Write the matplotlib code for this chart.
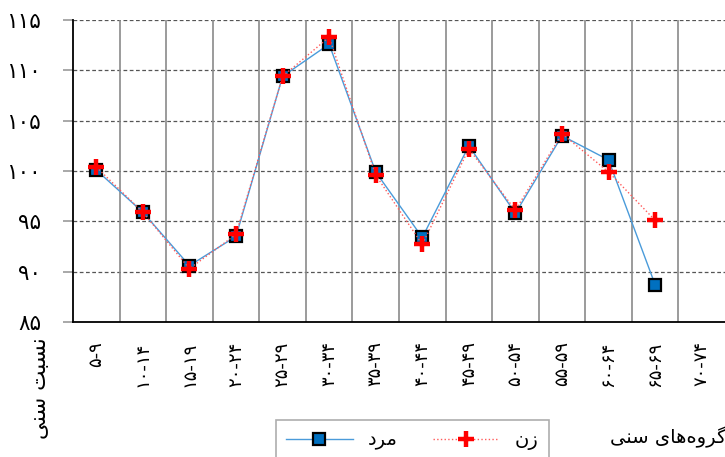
import numpy as np
import matplotlib
matplotlib.use("Agg")
import matplotlib.pyplot as plt
from matplotlib.lines import Line2D

# ---------------- data ----------------
age_groups = ['۵-۹', '۱۰-۱۴', '۱۵-۱۹', '۲۰-۲۴', '۲۵-۲۹', '۳۰-۳۴', '۳۵-۳۹',
              '۴۰-۴۴', '۴۵-۴۹', '۵۰-۵۴', '۵۵-۵۹', '۶۰-۶۴', '۶۵-۶۹', '۷۰-۷۴']
male = [100.1, 95.9, 90.6, 93.5, 109.4, 112.6, 99.9, 93.4, 102.5, 95.8,
        103.5, 101.1, 88.7, np.nan]
female = [100.4, 95.9, 90.3, 93.7, 109.4, 113.3, 99.6, 92.7, 102.2, 96.1,
          103.7, 99.9, 95.1, np.nan]
y_ticks = [85, 90, 95, 100, 105, 110, 115]
y_tick_labels = ['۸۵', '۹۰', '۹۵', '۱۰۰', '۱۰۵', '۱۱۰', '۱۱۵']
label_male = 'مرد'
label_female = 'زن'
x_title = 'گروه‌های سنی'
y_title = 'نسبت سنی'

# ------------- minimal Persian shaping (matplotlib has no complex text layout) -------------
FORMS = {  # isolated, final, initial, medial
    'ا': (0xFE8D, 0xFE8E, None, None),
    'ب': (0xFE8F, 0xFE90, 0xFE91, 0xFE92),
    'ت': (0xFE95, 0xFE96, 0xFE97, 0xFE98),
    'د': (0xFEA9, 0xFEAA, None, None),
    'ر': (0xFEAD, 0xFEAE, None, None),
    'ز': (0xFEAF, 0xFEB0, None, None),
    'س': (0xFEB1, 0xFEB2, 0xFEB3, 0xFEB4),
    'م': (0xFEE1, 0xFEE2, 0xFEE3, 0xFEE4),
    'ن': (0xFEE5, 0xFEE6, 0xFEE7, 0xFEE8),
    'ه': (0xFEE9, 0xFEEA, 0xFEEB, 0xFEEC),
    'و': (0xFEED, 0xFEEE, None, None),
    'ی': (0xFBFC, 0xFBFD, 0xFBFE, 0xFBFF),
    'گ': (0xFB92, 0xFB93, 0xFB94, 0xFB95),
}


def shape(text):
    out = []
    n = len(text)
    for i, ch in enumerate(text):
        if ch == '\u200c':
            continue
        if ch not in FORMS:
            out.append(ch)
            continue
        iso, fin, ini, med = FORMS[ch]
        prev = text[i - 1] if i > 0 else None
        nxt = text[i + 1] if i + 1 < n else None
        jp = prev in FORMS and FORMS[prev][2] is not None
        jn = ini is not None and nxt in FORMS
        if jp and jn:
            cp = med
        elif jp:
            cp = fin
        elif jn:
            cp = ini
        else:
            cp = iso
        out.append(chr(cp))
    return ''.join(reversed(out))


plt.rcParams['font.family'] = ['DejaVu Sans']

fig = plt.figure(figsize=(7.25, 4.57), dpi=100)
ax = fig.add_axes([73 / 725, 1 - 322 / 457, 1 - 73 / 725, (322 - 20) / 457])

x = np.arange(len(age_groups))
ax.plot(x, male, color='#4A9BDA', lw=1.0, marker='s', markersize=9,
        markerfacecolor='#0070C0', markeredgecolor='black', markeredgewidth=1.6,
        zorder=3)
ax.plot(x, female, color='#FF5A5A', lw=1.0, ls=':', marker='+',
        markersize=11, markeredgewidth=3.2, markeredgecolor='#FF0000', zorder=4)

ax.set_xlim(-0.5, 13.5)
ax.set_ylim(85, 115)
ax.set_yticks(y_ticks)
ax.set_yticklabels(y_tick_labels, fontsize=15.5)
ax.set_xticks(x)
ax.set_xticklabels(age_groups, rotation=90, fontsize=13, va='top', ha='center')
ax.tick_params(axis='x', length=0, pad=14)
ax.tick_params(axis='y', length=7, color='#999999', width=1.2, pad=16)

# grid
for yv in y_ticks[1:]:
    ax.axhline(yv, color='#555555', lw=0.9, ls=(0, (3, 2)), zorder=1)
for xv in np.arange(0.5, 13.5, 1.0):
    ax.axvline(xv, color='#8a8a8a', lw=1.2, zorder=1)

for s in ['top', 'right']:
    ax.spines[s].set_visible(False)
ax.spines['left'].set_color('black')
ax.spines['bottom'].set_color('black')
ax.spines['left'].set_linewidth(1.3)
ax.spines['bottom'].set_linewidth(1.3)

# titles
fig.text(40 / 725, 1 - 388 / 457, shape(y_title), rotation=90, fontsize=15.5,
         ha='center', va='center')
fig.text(668 / 725, 1 - 437 / 457, shape(x_title), fontsize=14,
         ha='center', va='center')

# legend
h_m = Line2D([], [], color='#4A9BDA', lw=1.0, marker='s', markersize=9,
             markerfacecolor='#0070C0', markeredgecolor='black', markeredgewidth=1.6)
h_f = Line2D([], [], color='#FF5A5A', lw=1.0, ls=':', marker='+', markersize=11,
             markeredgewidth=3.2, markeredgecolor='#FF0000')
leg = fig.legend([h_m, h_f], [shape(label_male), shape(label_female)],
                 loc='upper left', bbox_to_anchor=(266 / 725, 1 - 410 / 457),
                 ncol=2, fontsize=14, handlelength=3.4, columnspacing=1.8,
                 frameon=True, fancybox=False, edgecolor='#999999',
                 borderpad=0.55, handletextpad=0.8)
leg.get_frame().set_linewidth(1.2)

fig.savefig('out.png', dpi=100)
